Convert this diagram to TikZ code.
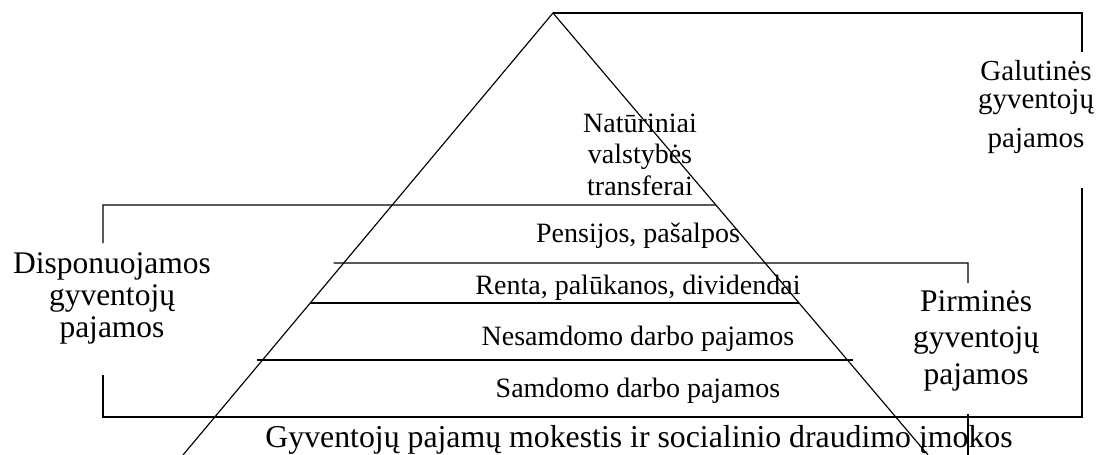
\documentclass[tikz,border=0pt]{standalone}
\usepackage{fontspec}
\setmainfont{Liberation Serif}
\usetikzlibrary{calc}
\begin{document}
\begin{tikzpicture}[x=1pt,y=-1pt,line width=1.15pt,
  pyr/.style={inner sep=0pt,anchor=base,font=\fontsize{28}{28}\selectfont},
  gal/.style={inner sep=0pt,anchor=base,font=\fontsize{29}{29}\selectfont},
  side/.style={inner sep=0pt,anchor=base,font=\fontsize{31.5}{31.5}\selectfont},
  bot/.style={inner sep=0pt,anchor=base,font=\fontsize{31.8}{31.8}\selectfont}]
\useasboundingbox (0,0) rectangle (1096,455);
% pyramid
\coordinate (A) at (553,13);
\coordinate (L) at (183,455);
\coordinate (R) at (928,455);
\draw (L) -- (A) -- (R);
% Galutines bracket
\coordinate (g1) at (1082,13);
\coordinate (g2) at (1082,52);
\coordinate (g3) at (1082,188);
\coordinate (g4) at (1082,417);
\coordinate (d4) at (103,417);
\coordinate (d3) at (103,375);
\coordinate (d1) at (103,243);
\coordinate (d0) at (103,205);
\coordinate (t1) at ($(A)!0.4344!(R)$);
\draw (A) -- (g1) -- (g2);
\draw (g3) -- (g4) -- (d4) -- (d3);
\draw (d1) -- (d0) -- (t1);
% Pirmines bracket
\coordinate (p0) at ($(A)!0.5656!(L)+(-10,0)$);
\coordinate (p1) at (968,263);
\coordinate (p2) at (968,283);
\coordinate (p3) at (968,414);
\coordinate (p4) at (968,455);
\draw (p0) -- (p1) -- (p2);
\draw (p3) -- (p4);
% inner lines
\coordinate (r0) at ($(A)!0.6561!(L)$);
\coordinate (r1) at ($(A)!0.6561!(R)$);
\draw (r0) -- (r1);
\coordinate (n0) at ($(A)!0.7851!(L)+(-6,0)$);
\coordinate (n1) at ($(A)!0.7851!(R)+(6,0)$);
\draw (n0) -- (n1);
% texts
\node[pyr] (nat1) at (640,132) {Natūriniai};
\node[pyr] (nat2) at (640,163) {valstybės};
\node[pyr] (nat3) at (640,195) {transferai};
\node[pyr] (pen) at (638,242) {Pensijos, pašalpos};
\node[pyr] (ren) at (638,294) {Renta, palūkanos, dividendai};
\node[pyr] (nes) at (638,345) {Nesamdomo darbo pajamos};
\node[pyr] (sam) at (638,397) {Samdomo darbo pajamos};
\node[bot] (gpm) at (639,447) {Gyventojų pajamų mokestis ir socialinio draudimo įmokos};
\node[side] (dis1) at (112,273) {Disponuojamos};
\node[side] (dis2) at (112,305) {gyventojų};
\node[side] (dis3) at (112,337) {pajamos};
\node[side] (pir1) at (976,311) {Pirminės};
\node[side] (pir2) at (976,347) {gyventojų};
\node[side] (pir3) at (976,384) {pajamos};
\node[gal] (gal1) at (1036,80) {Galutinės};
\node[gal] (gal2) at (1036,108) {gyventojų};
\node[gal] (gal3) at (1036,147) {pajamos};
\end{tikzpicture}
\end{document}
